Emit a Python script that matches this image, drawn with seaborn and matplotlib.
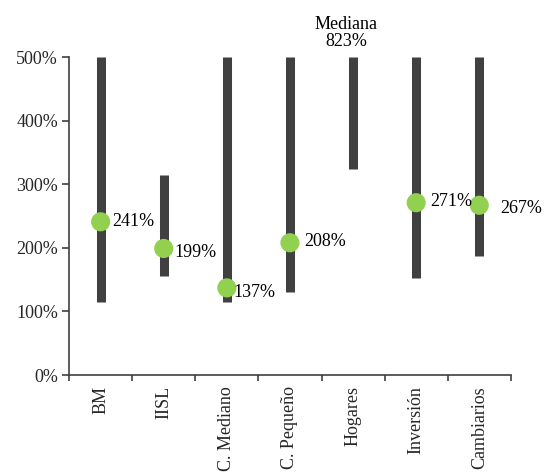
import matplotlib
matplotlib.use("Agg")
import matplotlib.pyplot as plt
import matplotlib.ticker as mticker
import numpy as np
import pandas as pd
import seaborn as sns

categories = ["BM", "IISL", "C. Mediano", "C. Pequeño", "Hogares", "Inversión", "Cambiarios"]
range_low = [115, 155, 115, 130, 324, 152, 187]
range_high = [500, 314, 500, 500, 500, 500, 500]
medians = [241, 199, 137, 208, 823, 271, 267]
median_labels = ["241%", "199%", "137%", "208%", "823%", "271%", "267%"]

# label offsets in points (style only)
label_offsets = [(8, 0), (8, -3), (5, -3), (10, 1), (0, 0), (10, 1), (15, -2)]

sns.set_theme(style="white")
plt.rcParams["font.family"] = ["Liberation Serif", "DejaVu Serif"]
FS = 13

GREEN = "#92D050"
DARK = "#404040"

fig = plt.figure(figsize=(5.44, 4.72), dpi=100)
ax = fig.add_axes([0.127, 0.2055, 0.812, 0.6735])

df = pd.DataFrame({"cat": pd.Categorical(categories, categories=categories, ordered=True),
                   "lo": range_low, "hi": range_high, "med": medians})
df["pos"] = np.arange(len(df))
ax.vlines(df["pos"], df["lo"], df["hi"], color=DARK, lw=6.5, capstyle="butt", zorder=2)

shown = df[df["med"] <= 500]
sns.scatterplot(data=shown, x="pos", y="med", color=GREEN, s=190, edgecolor="none",
                zorder=3, ax=ax, legend=False)

for i, (m, lab, off) in enumerate(zip(medians, median_labels, label_offsets)):
    if m <= 500:
        ax.annotate(lab, (i, m), xytext=off, textcoords="offset points",
                    ha="left", va="center", fontsize=FS, color="black")
    else:
        ax.annotate("Mediana\n" + lab, (i, 500), xytext=(-5, 5), textcoords="offset points",
                    ha="center", va="bottom", fontsize=FS, color="black", linespacing=1.0)

ax.set_xlim(-0.5, len(categories) - 0.5)
ax.set_ylim(0, 500)
ax.set_xticks(df["pos"])
ax.set_xticklabels(categories, rotation=90, va="top", ha="center")
ax.set_xticks(np.arange(len(categories) + 1) - 0.5, minor=True)
ax.tick_params(axis="x", which="major", bottom=True, length=0, pad=8, labelsize=FS)
ax.tick_params(axis="x", which="minor", bottom=True, length=4, width=1.2, color=DARK, direction="out")
ax.set_yticks([0, 100, 200, 300, 400, 500])
ax.yaxis.set_major_formatter(mticker.FuncFormatter(lambda v, p: f"{v:.0f}%"))
ax.tick_params(axis="y", left=True, length=5, width=1.2, color=DARK, direction="out", labelsize=FS, pad=3)
ax.set_xlabel("")
ax.set_ylabel("")
for s in ["top", "right"]:
    ax.spines[s].set_visible(False)
for s in ["left", "bottom"]:
    ax.spines[s].set_color(DARK)
    ax.spines[s].set_linewidth(1.2)
ax.grid(False)

fig.savefig("out.png", dpi=100)
